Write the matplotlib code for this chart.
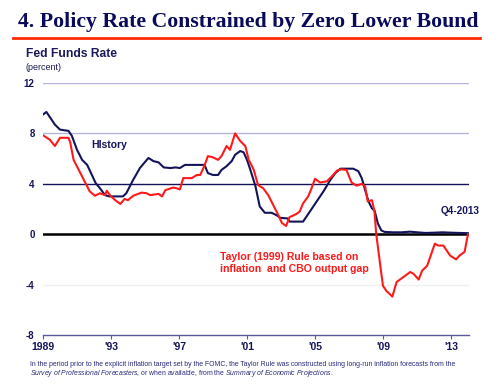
import matplotlib
matplotlib.use("Agg")
import matplotlib.pyplot as plt

NAVY = "#14145a"
RED = "#ff1a1a"

# Fed funds rate history (year, percent)
hist_year = [1989.0, 1989.2, 1989.7, 1990.0, 1990.5, 1990.7, 1991.0, 1991.3, 1991.6, 1992.1,
             1992.35, 1992.65, 1992.9, 1993.7, 1993.9, 1994.3, 1994.7, 1995.2, 1995.5, 1995.8,
             1996.1, 1996.5, 1996.8, 1997.05, 1997.35, 1998.5, 1998.7, 1999.0, 1999.3, 1999.5,
             1999.8, 2000.1, 2000.3, 2000.6, 2000.8, 2001.0, 2001.2, 2001.5, 2001.75, 2002.05,
             2002.45, 2002.75, 2002.95, 2003.4, 2003.5, 2004.3, 2004.7, 2005.1, 2005.5, 2005.9,
             2006.2, 2006.5, 2007.25, 2007.55, 2007.75, 2007.95, 2008.15, 2008.35, 2008.5, 2008.7,
             2008.9, 2009.1, 2009.6, 2010.1, 2010.6, 2011.0, 2011.5, 2012.0, 2012.5, 2013.0,
             2013.5, 2014.0]
hist_rate = [9.5, 9.7, 8.7, 8.3, 8.2, 7.8, 6.7, 5.9, 5.5, 4.05,
             3.65, 3.1, 3.0, 3.0, 3.25, 4.3, 5.25, 6.05, 5.8, 5.7,
             5.3, 5.25, 5.3, 5.25, 5.5, 5.5, 4.85, 4.7, 4.7, 5.1,
             5.4, 5.8, 6.3, 6.6, 6.5, 5.9, 5.1, 3.8, 2.2, 1.7,
             1.7, 1.5, 1.3, 1.25, 1.0, 1.0, 1.8, 2.6, 3.4, 4.3,
             4.85, 5.2, 5.2, 5.0, 4.45, 3.5, 2.6, 2.05, 1.9, 0.85,
             0.3, 0.18, 0.15, 0.15, 0.2, 0.15, 0.1, 0.12, 0.15, 0.12,
             0.1, 0.08]

# Taylor (1999) rule (year, percent)
tay_year = [1989.0, 1989.4, 1989.7, 1990.0, 1990.5, 1990.6, 1990.8, 1991.2, 1991.5, 1991.75,
            1992.05, 1992.35, 1992.65, 1992.75, 1993.0, 1993.25, 1993.55, 1993.8, 1994.0, 1994.3,
            1994.8, 1995.1, 1995.3, 1995.8, 1996.0, 1996.2, 1996.65, 1996.85, 1997.05, 1997.25,
            1997.75, 1998.05, 1998.25, 1998.5, 1998.7, 1999.0, 1999.3, 1999.5, 1999.8, 2000.0,
            2000.3, 2000.6, 2000.9, 2001.1, 2001.2, 2001.4, 2001.65, 2001.95, 2002.25, 2002.55,
            2002.85, 2003.05, 2003.3, 2003.5, 2003.9, 2004.1, 2004.3, 2004.6, 2004.8, 2005.0,
            2005.3, 2005.7, 2006.0, 2006.3, 2006.55, 2006.85, 2007.15, 2007.45, 2007.75, 2007.95,
            2008.1, 2008.35, 2008.5, 2008.6, 2008.9, 2009.0, 2009.2, 2009.55, 2009.8, 2010.2,
            2010.6, 2010.8, 2011.1, 2011.3, 2011.6, 2012.05, 2012.25, 2012.55, 2012.95, 2013.3,
            2013.5, 2013.8, 2014.0]
tay_rate = [7.85, 7.5, 7.0, 7.65, 7.65, 7.3, 5.9, 4.85, 4.05, 3.4,
            3.05, 3.25, 3.1, 3.45, 3.0, 2.7, 2.4, 2.8, 2.7, 3.05,
            3.3, 3.25, 3.1, 3.2, 3.0, 3.5, 3.7, 3.65, 3.55, 4.45,
            4.45, 4.7, 4.7, 5.45, 6.2, 6.1, 5.9, 6.2, 7.0, 6.7,
            8.0, 7.4, 7.0, 5.9, 5.65, 5.1, 3.9, 3.65, 3.1, 2.3,
            1.5, 0.9, 0.65, 1.35, 1.6, 1.8, 2.45, 3.0, 3.65, 4.4,
            4.1, 4.2, 4.6, 5.05, 5.15, 5.1, 4.1, 3.85, 4.0, 3.8,
            2.6, 2.7, 1.8, 0.05, -3.1, -4.1, -4.5, -4.95, -3.8, -3.4,
            -3.0, -3.15, -3.6, -2.9, -2.5, -0.75, -0.9, -0.9, -1.7, -2.0,
            -1.7, -1.4, 0.0]

yticks = [-8, -4, 0, 4, 8, 12]
xticks = [1989, 1993, 1997, 2001, 2005, 2009, 2013]
xticklabels = ["1989", "'93", "'97", "'01", "'05", "'09", "'13"]

plt.rcParams['font.family'] = ['Liberation Sans', 'DejaVu Sans']
plt.rcParams['mathtext.fontset'] = 'custom'
plt.rcParams['mathtext.rm'] = 'Liberation Sans'
plt.rcParams['mathtext.it'] = 'Liberation Sans:italic'

fig = plt.figure(figsize=(5, 3.9), dpi=100)
ax = fig.add_axes([43/500, 1-335/390, (469-43)/500, (335-83)/390])
ax.set_xlim(1989, 2014.06)
ax.set_ylim(-8, 12)

# gridlines
grid_style = {12: ("#b4b4dc", 1.0), 8: ("#b4b4dc", 1.0), 4: (NAVY, 1.0),
              0: ("#000000", 1.8), -4: ("#f0f0f0", 1.0)}
for v in yticks:
    if v in grid_style:
        c, lw = grid_style[v]
        ax.axhline(v, color=c, lw=lw, zorder=1)

ax.plot(hist_year, hist_rate, color=NAVY, lw=1.5, zorder=3)
ax.plot(tay_year, tay_rate, color=RED, lw=1.5, zorder=4)

for s in ["top", "right", "left"]:
    ax.spines[s].set_visible(False)
ax.spines["bottom"].set_color("#5a5a9a")
ax.spines["bottom"].set_linewidth(1.0)

ax.set_yticks(yticks)
ax.set_yticklabels([str(v) for v in yticks])
ax.set_xticks(xticks)
ax.set_xticklabels(xticklabels)
ax.tick_params(axis="y", length=0, pad=6, labelsize=7, labelcolor=NAVY)
ax.tick_params(axis="x", length=3, width=0.8, color="#5a5a9a", pad=2, labelsize=7.5, labelcolor=NAVY)
for lab in ax.get_xticklabels() + ax.get_yticklabels():
    lab.set_fontweight("bold")

ax.text(1991.85, 7.1, "HIstory", color=NAVY, fontsize=7.5, fontweight="bold", va="center")
ax.text(2012.4, 1.84, "Q4-2013", color=NAVY, fontsize=7.2, fontweight="bold", va="center")
ax.text(1999.4, -1.4, "Taylor (1999) Rule based on\ninflation  and CBO output gap",
        color=RED, fontsize=7.6, fontweight="bold", linespacing=1.25, va="top")

# title
fig.text(0.497, 1-22/390, "4. Policy Rate Constrained by Zero Lower Bound",
         family=["Liberation Serif"], fontweight="bold", fontsize=15.7, color="#0a0a5a",
         ha="center", va="center")
fig.add_artist(plt.Line2D([13/500, 480/500], [1-38/390, 1-38/390], color="#ff2a00", lw=2))

fig.text(26/500, 1-54/390, "Fed Funds Rate", fontsize=8.7, fontweight="bold", color="#1a1a5a",
         va="center")
fig.text(26/500, 1-67/390, "(percent)", fontsize=6.5, color="#1a1a5a", va="center")

# footnote
fn_color = "#2a2a7a"
fig.text(30/500, 1-366/390,
         "In the period prior to the explicit inflation target set by the FOMC, the Taylor Rule was constructed using long-run inflation forecasts from the",
         fontsize=4.95, color=fn_color, va="baseline")
fig.text(30/500, 1-375/390,
         r"$\mathit{Survey\ of\ Professional\ Forecasters}$, or when available, from the "
         r"$\mathit{Summary\ of\ Economic\ Projections}$.",
         fontsize=4.95, color=fn_color, va="baseline")

fig.savefig("out.png", dpi=100)
